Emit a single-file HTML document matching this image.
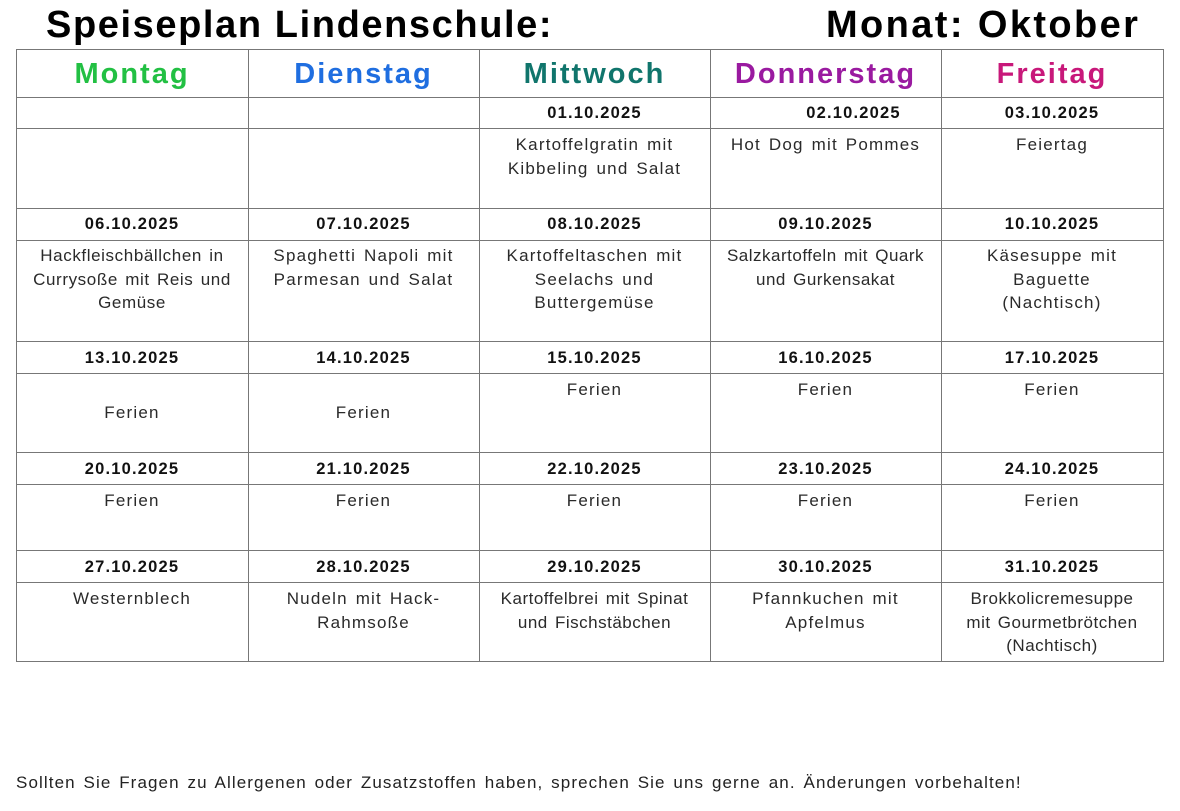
<!DOCTYPE html>
<html><head><meta charset="utf-8"><style>
body{margin:0;width:1180px;height:811px;background:#fff;position:relative;overflow:hidden;font-family:"Liberation Sans",sans-serif;}
.h{position:absolute;background:#777;height:1px;left:16px;width:1148px}
.v{position:absolute;background:#777;width:1px;top:49px;height:613px}
.t{position:absolute;text-align:center;color:#2a2a2a;font-size:17px;line-height:23.5px;white-space:nowrap;letter-spacing:1.2px;word-spacing:2px}
.d{position:absolute;text-align:center;color:#111;font-weight:bold;font-size:16.5px;line-height:20px;letter-spacing:1.2px}
.day{position:absolute;text-align:center;font-weight:bold;font-size:29px;top:56px;line-height:36px;letter-spacing:2px}
</style></head><body>
<div style="position:absolute;left:46px;top:2px;font-size:38px;font-weight:bold;line-height:46px;color:#000;letter-spacing:1.6px">Speiseplan Lindenschule:</div>
<div style="position:absolute;left:826px;top:2px;font-size:38px;font-weight:bold;line-height:46px;color:#000;letter-spacing:2.4px">Monat: Oktober</div>

<div class="h" style="top:49px"></div><div class="h" style="top:97px"></div><div class="h" style="top:128px"></div>
<div class="h" style="top:208px"></div><div class="h" style="top:240px"></div><div class="h" style="top:341px"></div>
<div class="h" style="top:373px"></div><div class="h" style="top:452px"></div><div class="h" style="top:484px"></div>
<div class="h" style="top:550px"></div><div class="h" style="top:582px"></div><div class="h" style="top:661px"></div>
<div class="v" style="left:16px"></div><div class="v" style="left:248px"></div><div class="v" style="left:479px"></div>
<div class="v" style="left:710px"></div><div class="v" style="left:941px"></div><div class="v" style="left:1163px"></div>

<div class="day" style="left:16px;width:232px;color:#22c043">Montag</div>
<div class="day" style="left:248px;width:231px;color:#1f6ee0">Dienstag</div>
<div class="day" style="left:479px;width:231px;color:#10756c">Mittwoch</div>
<div class="day" style="left:710px;width:231px;color:#9a1aa0">Donnerstag</div>
<div class="day" style="left:941px;width:222px;color:#c8187a">Freitag</div>

<div class="d" style="left:479px;width:231px;top:103px">01.10.2025</div>
<div class="d" style="left:766px;width:175px;top:103px">02.10.2025</div>
<div class="d" style="left:941px;width:222px;top:103px">03.10.2025</div>

<div class="d" style="left:16px;width:232px;top:214px">06.10.2025</div>
<div class="d" style="left:248px;width:231px;top:214px">07.10.2025</div>
<div class="d" style="left:479px;width:231px;top:214px">08.10.2025</div>
<div class="d" style="left:710px;width:231px;top:214px">09.10.2025</div>
<div class="d" style="left:941px;width:222px;top:214px">10.10.2025</div>

<div class="d" style="left:16px;width:232px;top:348px">13.10.2025</div>
<div class="d" style="left:248px;width:231px;top:348px">14.10.2025</div>
<div class="d" style="left:479px;width:231px;top:348px">15.10.2025</div>
<div class="d" style="left:710px;width:231px;top:348px">16.10.2025</div>
<div class="d" style="left:941px;width:222px;top:348px">17.10.2025</div>

<div class="d" style="left:16px;width:232px;top:459px">20.10.2025</div>
<div class="d" style="left:248px;width:231px;top:459px">21.10.2025</div>
<div class="d" style="left:479px;width:231px;top:459px">22.10.2025</div>
<div class="d" style="left:710px;width:231px;top:459px">23.10.2025</div>
<div class="d" style="left:941px;width:222px;top:459px">24.10.2025</div>

<div class="d" style="left:16px;width:232px;top:557px">27.10.2025</div>
<div class="d" style="left:248px;width:231px;top:557px">28.10.2025</div>
<div class="d" style="left:479px;width:231px;top:557px">29.10.2025</div>
<div class="d" style="left:710px;width:231px;top:557px">30.10.2025</div>
<div class="d" style="left:941px;width:222px;top:557px">31.10.2025</div>

<div class="t" style="left:479px;width:231px;top:133px">Kartoffelgratin mit<br>Kibbeling und Salat</div>
<div class="t" style="left:710px;width:231px;top:133px">Hot Dog mit Pommes</div>
<div class="t" style="left:941px;width:222px;top:133px">Feiertag</div>

<div class="t" style="left:16px;width:232px;top:244px;letter-spacing:0.6px">Hackfleischbällchen in<br>Currysoße mit Reis und<br>Gemüse</div>
<div class="t" style="left:248px;width:231px;top:244px">Spaghetti Napoli mit<br>Parmesan und Salat</div>
<div class="t" style="left:479px;width:231px;top:244px">Kartoffeltaschen mit<br>Seelachs und<br>Buttergemüse</div>
<div class="t" style="left:710px;width:231px;top:244px;letter-spacing:0.5px">Salzkartoffeln mit Quark<br>und Gurkensakat</div>
<div class="t" style="left:941px;width:222px;top:244px">Käsesuppe mit<br>Baguette<br>(Nachtisch)</div>

<div class="t" style="left:16px;width:232px;top:401px">Ferien</div>
<div class="t" style="left:248px;width:231px;top:401px">Ferien</div>
<div class="t" style="left:479px;width:231px;top:378px">Ferien</div>
<div class="t" style="left:710px;width:231px;top:378px">Ferien</div>
<div class="t" style="left:941px;width:222px;top:378px">Ferien</div>

<div class="t" style="left:16px;width:232px;top:489px">Ferien</div>
<div class="t" style="left:248px;width:231px;top:489px">Ferien</div>
<div class="t" style="left:479px;width:231px;top:489px">Ferien</div>
<div class="t" style="left:710px;width:231px;top:489px">Ferien</div>
<div class="t" style="left:941px;width:222px;top:489px">Ferien</div>

<div class="t" style="left:16px;width:232px;top:587px">Westernblech</div>
<div class="t" style="left:248px;width:231px;top:587px">Nudeln mit Hack-<br>Rahmsoße</div>
<div class="t" style="left:479px;width:231px;top:587px;letter-spacing:0.5px">Kartoffelbrei mit Spinat<br>und Fischstäbchen</div>
<div class="t" style="left:710px;width:231px;top:587px">Pfannkuchen mit<br>Apfelmus</div>
<div class="t" style="left:941px;width:222px;top:587px;letter-spacing:0.5px">Brokkolicremesuppe<br>mit Gourmetbrötchen<br>(Nachtisch)</div>

<div style="position:absolute;left:16px;top:772px;font-size:17px;line-height:22px;color:#222;white-space:nowrap;letter-spacing:1.1px;word-spacing:2px">Sollten Sie Fragen zu Allergenen oder Zusatzstoffen haben, sprechen Sie uns gerne an. Änderungen vorbehalten!</div>
</body></html>
